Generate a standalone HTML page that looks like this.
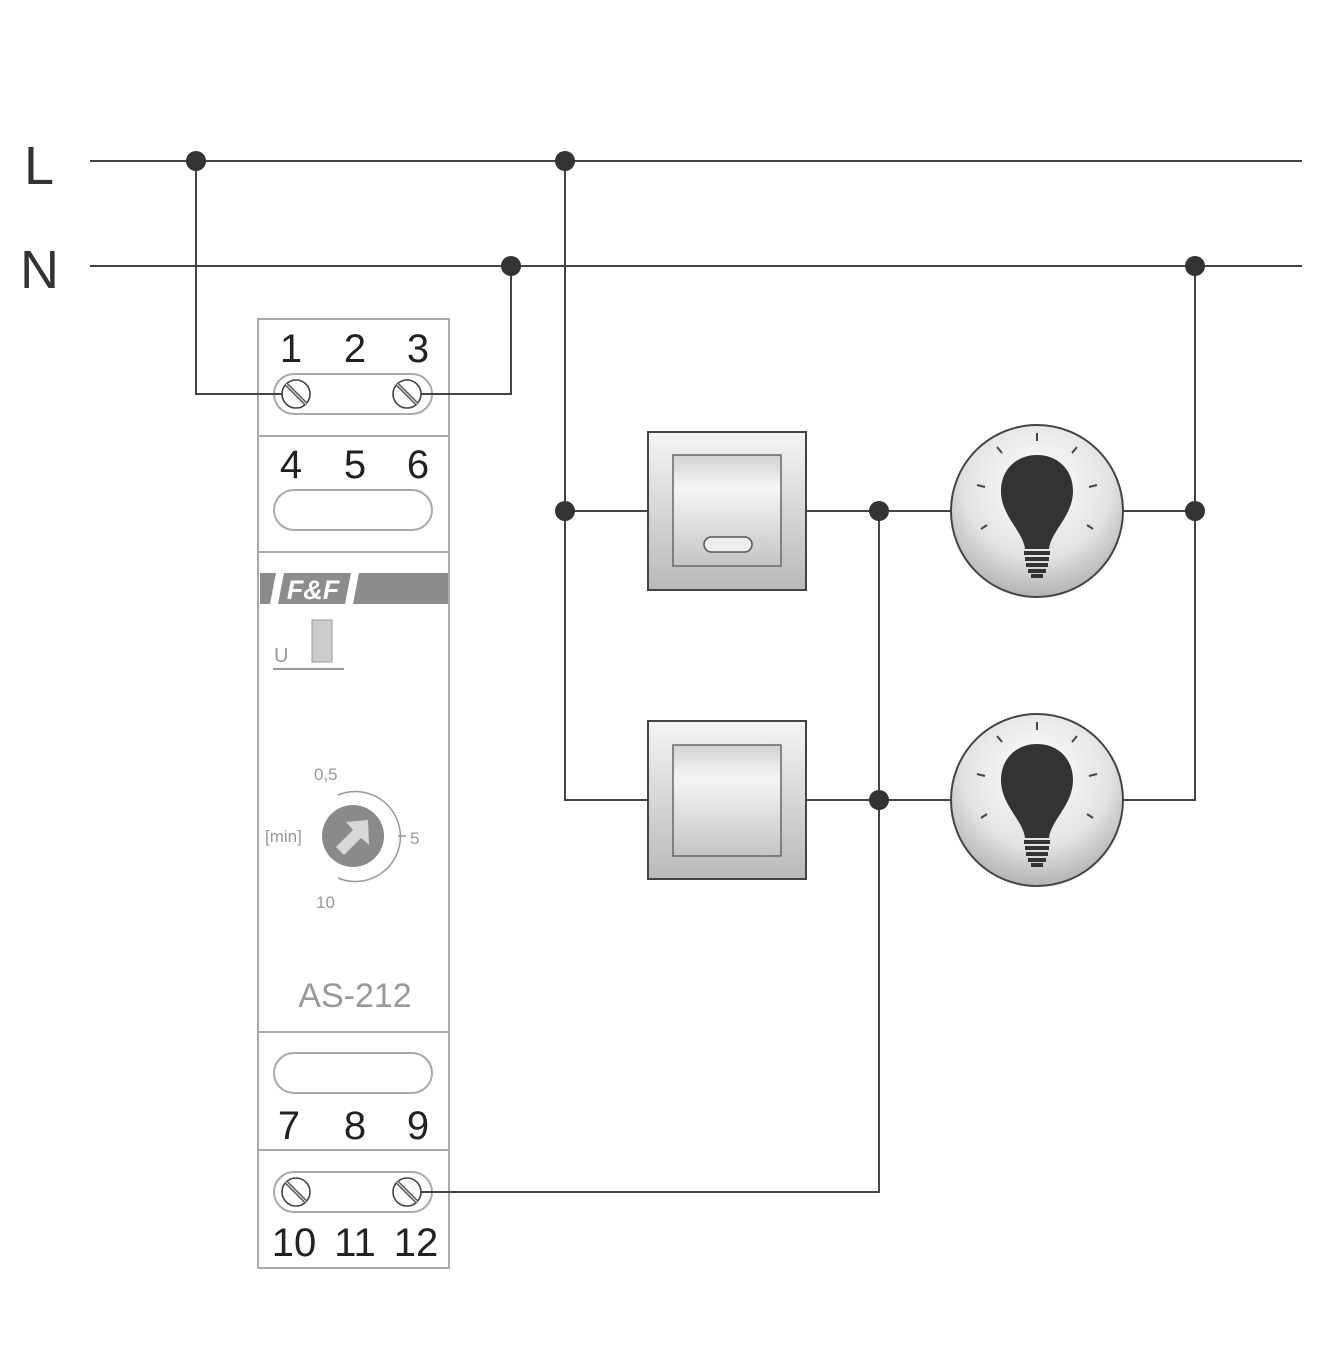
<!DOCTYPE html>
<html><head><style>html,body{margin:0;padding:0;background:#fff}svg{display:block}</style></head>
<body>
<svg width="1338" height="1350" viewBox="0 0 1338 1350" xmlns="http://www.w3.org/2000/svg">
<defs>
<linearGradient id="sw" x1="0" y1="0" x2="0" y2="1"><stop offset="0" stop-color="#f4f4f4"/><stop offset="1" stop-color="#b9b9b9"/></linearGradient>
<linearGradient id="swi" x1="0" y1="0" x2="0" y2="1"><stop offset="0" stop-color="#d2d2d2"/><stop offset="0.3" stop-color="#f5f5f5"/><stop offset="1" stop-color="#c4c4c4"/></linearGradient>
<radialGradient id="lg" cx="0.5" cy="0.35" r="0.7"><stop offset="0" stop-color="#ffffff"/><stop offset="0.6" stop-color="#e3e3e3"/><stop offset="1" stop-color="#a8a8a8"/></radialGradient>
<g id="bulb">
<circle r="86" fill="url(#lg)" stroke="#444" stroke-width="2"/>
<path d="M-12,38 C-14,20 -36,5 -36,-20 C-36,-42 -20,-56 0,-56 C20,-56 36,-42 36,-20 C36,5 14,20 12,38 Z" fill="#333"/>
<path d="M-13,42 H13 M-12,48 H12 M-11,54 H11 M-9,60 H9 M-6,65 H6" stroke="#333" stroke-width="4"/>
<g stroke="#444" stroke-width="2">
<line x1="0" y1="-78" x2="0" y2="-70"/><line x1="-40" y1="-64" x2="-35" y2="-58"/><line x1="40" y1="-64" x2="35" y2="-58"/>
<line x1="-60" y1="-26" x2="-52" y2="-24"/><line x1="60" y1="-26" x2="52" y2="-24"/>
<line x1="-56" y1="18" x2="-50" y2="14"/><line x1="56" y1="18" x2="50" y2="14"/></g>
</g>
<g id="screw"><circle r="14" fill="#fff" stroke="#444" stroke-width="1.6"/><line x1="-10" y1="-10" x2="10" y2="10" stroke="#555" stroke-width="4"/><line x1="-10" y1="-10" x2="10" y2="10" stroke="#ddd" stroke-width="1.2"/></g>
</defs>
<g font-family="Liberation Sans, sans-serif">
<text x="24" y="184" font-size="54" fill="#333">L</text>
<text x="20" y="288" font-size="54" fill="#333">N</text>
</g>
<!-- module -->
<g stroke="#aaa" stroke-width="2" fill="none">
<rect x="258" y="319" width="191" height="949" fill="#fff"/>
<line x1="258" y1="436" x2="449" y2="436"/><line x1="258" y1="552" x2="449" y2="552"/>
<line x1="258" y1="1032" x2="449" y2="1032"/><line x1="258" y1="1150" x2="449" y2="1150"/>
<rect x="274" y="374" width="158" height="40" rx="20"/>
<rect x="274" y="490" width="158" height="40" rx="20"/>
<rect x="274" y="1053" width="158" height="40" rx="20"/>
<rect x="274" y="1172" width="158" height="40" rx="20"/>
</g>
<g stroke="#444" stroke-width="2" fill="none">
<line x1="90" y1="161" x2="1302" y2="161"/>
<line x1="90" y1="266" x2="1302" y2="266"/>
<polyline points="196,161 196,394 282,394"/>
<polyline points="511,266 511,394 421,394"/>
<polyline points="565,161 565,800 648,800"/>
<line x1="565" y1="511" x2="648" y2="511"/>
<line x1="806" y1="511" x2="951" y2="511"/>
<line x1="806" y1="800" x2="951" y2="800"/>
<line x1="1123" y1="511" x2="1195" y2="511"/>
<polyline points="1195,266 1195,800 1123,800"/>
<polyline points="879,511 879,1192 421,1192"/>
</g>
<g fill="#333">
<circle cx="196" cy="161" r="10"/><circle cx="565" cy="161" r="10"/><circle cx="511" cy="266" r="10"/><circle cx="1195" cy="266" r="10"/>
<circle cx="565" cy="511" r="10"/><circle cx="879" cy="511" r="10"/><circle cx="1195" cy="511" r="10"/><circle cx="879" cy="800" r="10"/>
</g>
<use href="#screw" x="296" y="394"/><use href="#screw" x="407" y="394"/>
<use href="#screw" x="296" y="1192"/><use href="#screw" x="407" y="1192"/>
<g font-family="Liberation Sans, sans-serif" font-size="40" fill="#222" text-anchor="middle">
<text x="291" y="362">1</text><text x="355" y="362">2</text><text x="418" y="362">3</text>
<text x="291" y="478">4</text><text x="355" y="478">5</text><text x="418" y="478">6</text>
<text x="289" y="1139">7</text><text x="355" y="1139">8</text><text x="418" y="1139">9</text>
<text x="294" y="1256">10</text><text x="355" y="1256">11</text><text x="416" y="1256">12</text>
</g>
<rect x="260" y="573" width="188" height="31" fill="#8c8c8c"/>
<g fill="#fff"><polygon points="276,573 284,573 278,604 270,604"/><polygon points="351,573 359,573 353,604 345,604"/></g>
<text x="313" y="599" font-family="Liberation Sans, sans-serif" font-size="27" font-weight="bold" font-style="italic" fill="#fff" text-anchor="middle">F&amp;F</text>
<rect x="312" y="620" width="20" height="42" fill="#ccc" stroke="#999"/>
<text x="274" y="662" font-family="Liberation Sans, sans-serif" font-size="20" fill="#999">U</text>
<line x1="273" y1="669" x2="344" y2="669" stroke="#999" stroke-width="2"/>
<path d="M338,795 A45,45 0 1 1 338,878" fill="none" stroke="#999" stroke-width="1.5"/>
<circle cx="353" cy="836" r="31" fill="#8a8a8a"/>
<polygon points="368,820 369,845 361,838 344,855 336,847 353,830 346,822" fill="#d8d8d8"/>
<g font-family="Liberation Sans, sans-serif" font-size="17" fill="#999">
<text x="314" y="780">0,5</text><text x="265" y="842">[min]</text><text x="410" y="844">5</text><text x="316" y="908">10</text>
</g>
<line x1="398" y1="836" x2="406" y2="836" stroke="#999" stroke-width="1.5"/>
<text x="355" y="1007" font-family="Liberation Sans, sans-serif" font-size="34" fill="#999" text-anchor="middle">AS-212</text>
<!-- switches -->
<rect x="648" y="432" width="158" height="158" fill="url(#sw)" stroke="#444" stroke-width="2"/>
<rect x="673" y="455" width="108" height="111" fill="url(#swi)" stroke="#666" stroke-width="1.5"/>
<rect x="704" y="537" width="48" height="15" rx="7.5" fill="#eee" stroke="#555" stroke-width="1.5"/>
<rect x="648" y="721" width="158" height="158" fill="url(#sw)" stroke="#444" stroke-width="2"/>
<rect x="673" y="745" width="108" height="111" fill="url(#swi)" stroke="#666" stroke-width="1.5"/>
<use href="#bulb" x="1037" y="511"/>
<use href="#bulb" x="1037" y="800"/>
</svg>
</body></html>
